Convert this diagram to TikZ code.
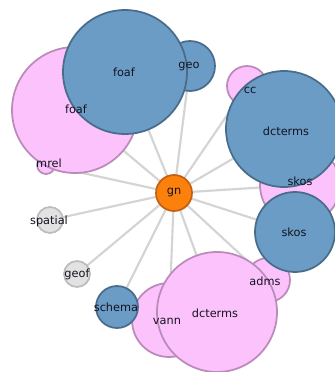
\documentclass[tikz,border=0pt]{standalone}
\usepackage{fontspec}
\setmainfont{DejaVu Sans}
\usetikzlibrary{backgrounds}
\definecolor{bfill}{RGB}{106,156,198}
\definecolor{bline}{RGB}{72,108,138}
\definecolor{pfill}{RGB}{252,194,252}
\definecolor{pline}{RGB}{186,138,186}
\definecolor{gfill}{RGB}{226,226,226}
\definecolor{gline}{RGB}{188,188,188}
\definecolor{ofill}{RGB}{252,128,12}
\definecolor{oline}{RGB}{196,96,20}
\definecolor{edgec}{RGB}{212,212,212}
\definecolor{txt}{RGB}{20,20,30}
\tikzset{
  bub/.style={circle, inner sep=0pt, outer sep=0pt, line width=1.3pt, minimum size={2*#1*0.75pt}},
  blueb/.style={bub=#1, draw=bline, fill=bfill},
  pinkb/.style={bub=#1, draw=pline, fill=pfill},
  grayb/.style={bub=#1, draw=gline, fill=gfill},
  orangeb/.style={bub=#1, draw=oline, fill=ofill},
  lbl/.style={text=txt, font=\fontsize{8.5}{10}\selectfont, inner sep=0pt},
  edge/.style={draw=edgec, line width=1.6pt}
}
\begin{document}
\begin{tikzpicture}[x=0.75pt,y=-0.75pt]
\useasboundingbox (0,0) rectangle (335,372);
% circles back to front
\node[pinkb=9] (mrel) at (46,165) {};
\node[pinkb=63] (foafP) at (75,110) {};
\node[blueb=25] (geo) at (190,66) {};
\node[blueb=62] (foafB) at (125,72) {};
\node[pinkb=20] (cc) at (247,86) {};
\node[pinkb=40] (skosP) at (300,185) {};
\node[blueb=58] (dctermsB) at (284,129) {};
\node[pinkb=22] (adms) at (268,280) {};
\node[blueb=40] (skosB) at (295,232) {};
\node[pinkb=37] (vann) at (169,320) {};
\node[pinkb=60] (dctermsP) at (217,312) {};
\node[blueb=21] (schema) at (117,307) {};
\node[grayb=13] (spatial) at (50,220) {};
\node[grayb=13] (geof) at (77,274) {};
\node[orangeb=18] (gn) at (174,193) {};
% edges behind
\begin{pgfonlayer}{background}
\fill[white] (0,0) rectangle (335,372);
\foreach \t in {mrel,foafP,geo,foafB,cc,skosP,dctermsB,adms,skosB,vann,dctermsP,schema,spatial,geof}
  \draw[edge] (gn.center) -- (\t.center);
\end{pgfonlayer}
% labels
\node[lbl] (lgn) at (gn) {gn};
\node[lbl] (lfoafB) at (124,72) {foaf};
\node[lbl] (lfoafP) at (76,109) {foaf};
\node[lbl] (lmrel) at (49,163) {mrel};
\node[lbl] (lgeo) at (189,67) {geo};
\node[lbl] (lcc) at (250,90) {cc};
\node[lbl] (ldctermsB) at (286,131) {dcterms};
\node[lbl] (lskosP) at (300,181) {skos};
\node[lbl] (lskosB) at (294,232) {skos};
\node[lbl] (ladms) at (265,281) {adms};
\node[lbl] (ldctermsP) at (215,313) {dcterms};
\node[lbl] (lvann) at (167,321) {vann};
\node[lbl] (lschema) at (116,307) {schema};
\node[lbl] (lspatial) at (49,221) {spatial};
\node[lbl] (lgeof) at (77,274) {geof};
\end{tikzpicture}
\end{document}
